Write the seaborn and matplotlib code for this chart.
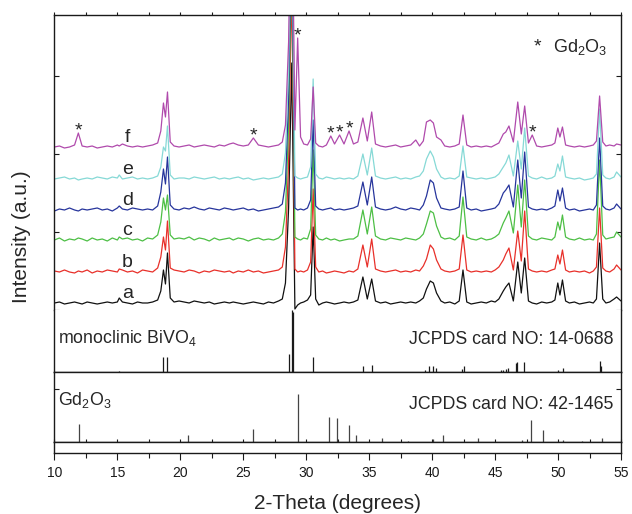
import matplotlib
matplotlib.use("Agg")
import matplotlib.pyplot as plt
import numpy as np
import pandas as pd
import seaborn as sns

sns.set_theme(style="ticks")
plt.rcParams["font.family"] = ["Liberation Sans", "DejaVu Sans"]
plt.rcParams["mathtext.fontset"] = "custom"
plt.rcParams["mathtext.rm"] = "Liberation Sans"
plt.rcParams["mathtext.default"] = "regular"
plt.rcParams["axes.edgecolor"] = "#1a1a1a"
plt.rcParams["xtick.color"] = "#1a1a1a"
plt.rcParams["ytick.color"] = "#1a1a1a"

# shared 2-theta grid (degrees) for the measured patterns
two_theta = [
    10.0, 10.4, 10.8, 11.2, 11.6, 11.9, 12.2, 12.6, 13.0, 13.4,
    13.8, 14.2, 14.6, 15.0, 15.15, 15.4, 15.8, 16.2, 16.6, 17.0,
    17.4, 17.8, 18.2, 18.45, 18.66, 18.82, 18.98, 19.2, 19.5, 19.9,
    20.3, 20.7, 21.1, 21.5, 21.9, 22.3, 22.7, 23.1, 23.5, 23.9,
    24.2, 24.6, 25.0, 25.4, 25.8, 26.2, 26.6, 27.0, 27.4, 27.8,
    28.1, 28.35, 28.6, 28.85, 29.1, 29.32, 29.55, 29.8, 30.1, 30.35,
    30.55, 30.75, 31.0, 31.3, 31.6, 31.95, 32.25, 32.65, 33.0, 33.4,
    33.75, 34.1, 34.5, 34.85, 35.2, 35.5, 35.9, 36.3, 36.7, 37.1,
    37.5, 37.9, 38.3, 38.7, 39.0, 39.3, 39.55, 39.85, 40.1, 40.35,
    40.7, 41.0, 41.4, 41.8, 42.15, 42.45, 42.75, 43.1, 43.5, 43.9,
    44.3, 44.7, 45.0, 45.3, 45.65, 45.85, 46.1, 46.45, 46.8, 47.08,
    47.35, 47.65, 47.95, 48.3, 48.7, 49.1, 49.5, 49.75, 49.98, 50.15,
    50.35, 50.6, 50.9, 51.3, 51.7, 52.1, 52.5, 52.8, 53.05, 53.3,
    53.55, 53.8, 54.1, 54.45, 54.65, 55.0,
]

# intensity above each trace's own baseline (a.u.)
pattern_a = [
    0, 1, -1, 0, 1, 0, -1, 1, 0, -1,
    0, 1, 0, 1, 5, 1, 0, -1, 1, 0,
    0, 1, 3, 12, 33, 19, 50, 5, 1, 2,
    1, 0, 2, 1, 0, 1, -1, 0, 1, 0,
    1, 0, -1, 0, 1, 0, -1, 1, 0, 2,
    4, 20, 95, 240, -6, -2, 0, 1, 3, 8,
    76, 4, -2, 0, 1, 0, -1, 0, 1, 0,
    1, 3, 26, 4, 24, 2, 0, 1, -1, 0,
    1, 0, 1, 0, 2, 5, 14, 22, 20, 10,
    2, 0, 1, -1, 2, 33, 1, -1, 0, 1,
    0, 2, 1, 4, 12, 16, 20, 2, 41, 10,
    45, 2, 0, -1, 1, 0, 1, 3, 20, 8,
    23, 2, 0, 1, -1, 0, 1, 0, 4, 60,
    4, 0, 1, 4, 6, 2,
]
pattern_b = [
    1, 0, 2, 0, -1, 1, 0, 2, -1, 1,
    0, 2, 1, 0, 3, 2, 0, 1, -1, 2,
    1, 0, 4, 15, 35, 22, 51, 4, 2, 1,
    0, 2, 1, -1, 1, 0, 2, 1, 0, 1,
    -1, 1, 0, 2, 0, 1, -1, 0, 1, 2,
    5, 25, 110, 290, 3, 0, 1, 0, 2, 10,
    83, 5, 0, 1, -1, 0, 1, 0, -1, 1,
    0, 3, 27, 5, 33, 3, 1, 0, 1, 2,
    0, 1, 0, 2, 1, 6, 13, 27, 23, 12,
    3, 1, 0, 1, 3, 37, 2, 0, 1, 0,
    1, 0, 2, 5, 12, 18, 24, 2, 41, 11,
    61, 3, 1, 0, 1, 0, 2, 3, 17, 8,
    22, 2, 0, 1, 0, 1, -1, 1, 5, 64,
    4, 1, 0, 3, 7, 2,
]
pattern_c = [
    0, 2, -1, 1, 0, 2, 1, -1, 2, 0,
    1, -1, 2, 0, 3, 1, 2, 0, 1, -1,
    2, 1, 5, 18, 42, 30, 45, 5, 1, 2,
    1, 3, 0, 2, 1, -1, 2, 0, 1, 2,
    0, 2, 1, -1, 1, 2, 0, 1, 0, 2,
    6, 28, 115, 290, 3, 1, 0, 2, 1, 11,
    90, 5, 1, 0, 2, 0, 1, -1, 0, 1,
    1, 4, 30, 6, 33, 4, 1, 0, 2, 1,
    0, 2, 1, 0, 2, 6, 16, 29, 27, 14,
    3, 1, 2, 0, 4, 43, 3, 1, 0, 2,
    0, 1, 3, 6, 17, 22, 29, 7, 55, 13,
    60, 4, 1, 0, 2, 1, 0, 3, 18, 10,
    25, 3, 1, 0, 2, 0, 1, 0, 6, 80,
    5, 1, 2, 3, 8, 3,
]
pattern_d = [
    -1, 1, 0, 2, 0, -1, 1, 0, 1, 2,
    0, 1, -1, 2, 4, 1, 0, 2, 1, 0,
    1, 0, 4, 18, 41, 26, 53, 5, 1, 0,
    2, 1, 3, 1, 0, 2, 1, 0, 2, 1,
    0, 1, 2, 0, 1, -1, 0, 1, 2, 3,
    6, 27, 112, 290, 2, 0, 1, 0, 2, 10,
    90, 4, 1, 0, 1, 2, 0, 1, 0, 1,
    2, 4, 28, 5, 33, 3, 1, 0, 1, 3,
    1, 0, 2, 1, 0, 5, 14, 30, 27, 12,
    2, 1, 0, 1, 3, 39, 2, 0, 1, -1,
    0, 1, 2, 6, 17, 20, 25, 3, 50, 12,
    58, 3, 1, 0, 1, 0, 2, 4, 20, 9,
    22, 2, 0, 1, -1, 0, 1, 0, 5, 72,
    4, 1, 0, 2, 6, 1,
]
pattern_e = [
    0, 1, 2, 0, 1, -1, 0, 1, 0, 2,
    1, 0, 2, 1, 4, 0, 1, 2, 0, 1,
    0, 1, 3, 12, 32, 28, 53, 4, 0, 1,
    1, 0, 2, 1, 0, 1, 2, 0, 1, 0,
    1, 2, 0, 1, -1, 0, 1, 0, 1, 2,
    5, 26, 110, 290, 3, 1, 0, 1, 2, 12,
    100, 5, 1, 0, 2, 1, 0, 1, 0, 1,
    0, 3, 25, 4, 31, 3, 1, 0, 1, 2,
    0, 1, 0, 2, 3, 8, 20, 28, 22, 10,
    2, 0, 1, 0, 3, 33, 2, 1, 0, 1,
    0, 1, 2, 5, 12, 16, 24, 3, 38, 10,
    51, 3, 1, 0, 2, 0, 1, 3, 15, 8,
    23, 2, 1, 0, 1, -1, 0, 1, 5, 70,
    4, 1, 0, 2, 7, 2,
]
pattern_f = [
    0, 1, -1, 0, 2, 14, 1, 0, 1, -1,
    0, 1, 0, 2, 1, 3, 1, 0, 1, 0,
    1, 2, 4, 16, 44, 30, 55, 5, 1, 0,
    1, 2, 0, 1, 2, 1, 0, 2, 1, 3,
    4, 2, 1, 2, 9, 2, 1, 0, 1, 2,
    5, 22, 105, 290, 17, 109, 10, 3, 2, 8,
    60, 4, 1, 0, 2, 11, 3, 12, 3, 16,
    3, 5, 29, 6, 35, 3, 1, 0, 1, 2,
    0, 1, 2, 7, 1, 6, 25, 27, 24, 10,
    7, 1, 0, 1, 3, 32, 2, 0, 1, 0,
    1, 0, 2, 4, 13, 15, 21, 5, 45, 13,
    41, 4, 12, 1, 0, 1, 2, 4, 19, 10,
    20, 2, 1, 0, 1, 0, 1, 2, 6, 51,
    5, 1, 2, 1, 3, 2,
]

sample_labels = ["a", "b", "c", "d", "e", "f"]
baselines = [7, 38, 70, 100, 131, 163]
colors = ["#111111", "#e8302a", "#4dbf45", "#27359c", "#86d9d6", "#b04aac"]

# Gd2O3 reflections flagged with * on pattern f
gd_marked = [11.9, 25.8, 29.32, 31.95, 32.65, 33.4, 47.95]

# reference cards
bivo4_pos = [15.12, 18.66, 18.98, 28.61, 28.83, 28.96, 30.55, 34.5, 35.2, 39.47,
             39.79, 40.04, 40.27, 42.35, 42.5, 45.46, 45.65, 45.87, 46.03, 46.67,
             46.74, 47.31, 49.97, 50.36, 53.3, 53.4]
bivo4_int = [2, 25, 25, 29, 100, 96, 24, 10, 12, 4,
             10, 9, 7, 5, 10, 4, 4, 5, 7, 15,
             16, 16, 4, 6, 18, 9]
gd2o3_pos = [11.95, 20.57, 25.79, 29.31, 31.81, 32.45, 33.41, 33.96, 36.04, 38.12,
             40.1, 40.85, 43.63, 47.15, 47.89, 48.79, 50.36, 51.9, 53.47]
gd2o3_int = [37, 14, 26, 100, 51, 49, 35, 14, 7, 2,
             5, 14, 8, 3, 45, 25, 3, 2, 7]

patterns = [pattern_a, pattern_b, pattern_c, pattern_d, pattern_e, pattern_f]
for p in patterns:
    assert len(p) == len(two_theta), len(p)

frames = []
for lab, base, vals in zip(sample_labels, baselines, patterns):
    frames.append(pd.DataFrame({"theta": two_theta,
                                "intensity": np.array(vals) + base,
                                "sample": lab}))
df = pd.concat(frames, ignore_index=True)

fig = plt.figure(figsize=(6.32, 5.14), dpi=100)
L, W = 0.0861, 0.8965
ax_top = fig.add_axes([L, 0.39689, W, 0.57393])
ax_mid = fig.add_axes([L, 0.27626, W, 0.12062])
ax_gd = fig.add_axes([L, 0.14066, W, 0.13560])
ax_x = fig.add_axes([L, 0.11926, W, 0.02140])

for ax in (ax_top, ax_mid, ax_gd, ax_x):
    ax.set_xlim(10, 55)
    for s in ax.spines.values():
        s.set_linewidth(1.0)

# measured patterns
sns.lineplot(data=df, x="theta", y="intensity", hue="sample", palette=colors,
             sort=False, estimator=None, linewidth=0.9, legend=False, ax=ax_top)
ax_top.set_ylim(0, 295)
ax_top.set_xlabel("")
ax_top.set_ylabel("")
ax_top.spines["bottom"].set_visible(False)
ax_top.xaxis.set_ticks_position("top")
ax_top.set_xticks(np.arange(10, 55.1, 2.5))
ax_top.tick_params(axis="x", direction="out", length=2, width=0.8, labeltop=False)
ax_top.set_yticks([0, 78, 156, 234])
ax_top.tick_params(axis="y", direction="in", length=3.5, width=0.8,
                   left=True, right=True, labelleft=False)

for lab, base in zip(sample_labels, baselines):
    ax_top.text(15.8, base + 5, lab, ha="center", va="baseline", fontsize=14)

for pos in gd_marked:
    i = two_theta.index(pos)
    ax_top.text(pos, baselines[5] + pattern_f[i] - 2, "*", ha="center",
                va="baseline", fontsize=14)

ax_top.text(0.8517, 0.875, "*", transform=ax_top.transAxes, ha="center",
            va="baseline", fontsize=14)
ax_top.text(0.8800, 0.875, "Gd$_2$O$_3$", transform=ax_top.transAxes,
            ha="left", va="baseline", fontsize=13)

# BiVO4 card
ax_mid.vlines(bivo4_pos, 0, bivo4_int, color="#1a1a1a", linewidth=0.9)
ax_mid.set_ylim(0, 100)
ax_mid.spines["top"].set_visible(False)
ax_mid.set_xticks([])
ax_mid.set_yticks([])
ax_mid.text(0.006, 0.473, "monoclinic BiVO$_4$", transform=ax_mid.transAxes,
            ha="left", va="baseline", fontsize=12.8)
ax_mid.text(0.986, 0.45, "JCPDS card NO: 14-0688", transform=ax_mid.transAxes,
            ha="right", va="baseline", fontsize=12.8)

# Gd2O3 card
ax_gd.vlines(gd2o3_pos, 0, gd2o3_int, color="#444444", linewidth=0.9)
ax_gd.set_ylim(0, 145)
ax_gd.set_xticks(np.arange(10, 55.1, 2.5))
ax_gd.tick_params(axis="x", direction="in", length=2, width=0.8, labelbottom=False)
ax_gd.set_yticks([110])
ax_gd.tick_params(axis="y", direction="in", length=3.5, width=0.8,
                  left=True, right=True, labelleft=False)
ax_gd.text(0.006, 0.529, "Gd$_2$O$_3$", transform=ax_gd.transAxes,
           ha="left", va="baseline", fontsize=12.8)
ax_gd.text(0.986, 0.47, "JCPDS card NO: 42-1465", transform=ax_gd.transAxes,
           ha="right", va="baseline", fontsize=12.8)

# bottom axis strip
ax_x.set_ylim(0, 1)
ax_x.set_yticks([])
ax_x.set_xticks(np.arange(10, 55.1, 5))
ax_x.set_xticks(np.arange(12.5, 55, 5), minor=True)
ax_x.tick_params(axis="x", which="major", direction="out", length=5, width=0.8,
                 labelsize=10, pad=4.5)
ax_x.tick_params(axis="x", which="minor", direction="out", length=3.4, width=0.8)

fig.text(0.0348, 0.5399, "Intensity (a.u.)", rotation=90, ha="center",
         va="center", fontsize=15)
fig.text(0.5343, 0.0097, "2-Theta (degrees)", ha="center", va="baseline",
         fontsize=15)

fig.savefig("out.png", dpi=100)
